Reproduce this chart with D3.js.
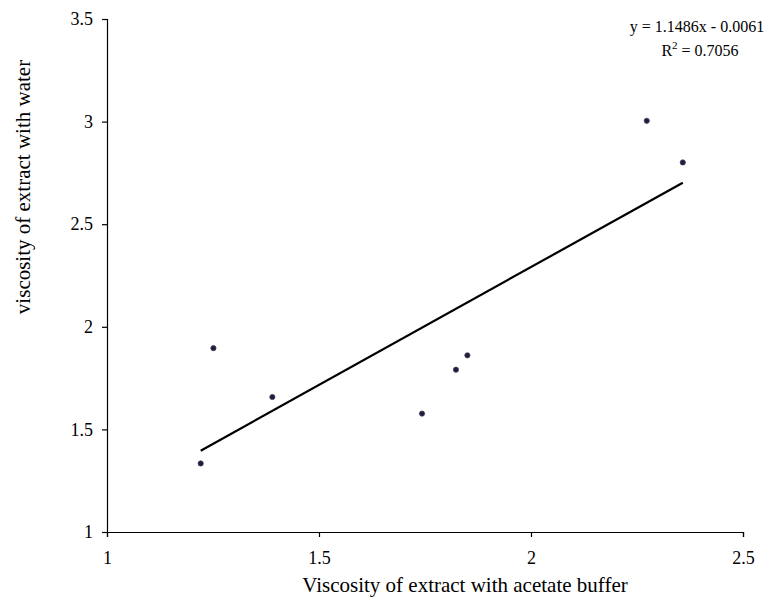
<!DOCTYPE html>
<html>
<head>
<meta charset="utf-8">
<script src="https://cdn.jsdelivr.net/npm/d3@7"></script>
<style>
  body { margin: 0; background: #fff; }
  svg text { font-family: "Liberation Serif", "Times New Roman", serif; fill: #000; }
</style>
</head>
<body>
<svg id="graph"></svg>
<script>
// data
const acetate = [1.221, 1.251, 1.390, 1.743, 1.823, 1.850, 2.273, 2.358];
const water   = [1.334, 1.896, 1.658, 1.577, 1.791, 1.861, 3.004, 2.801];
const xTicks = [1, 1.5, 2, 2.5];
const yTicks = [1, 1.5, 2, 2.5, 3, 3.5];
const slope = 1.1486, intercept = -0.0061;
const eqLabel = "y = 1.1486x - 0.0061";
const r2Value = "0.7056";

const svgWidth = 774, svgHeight = 603;
const plotLeft = 107, plotRight = 743, plotTop = 19, plotBottom = 532;

const svg = d3.select("svg#graph")
    .attr("width", svgWidth)
    .attr("height", svgHeight);

const x = d3.scaleLinear().domain([1, 2.5]).range([plotLeft, plotRight]);
const y = d3.scaleLinear().domain([1, 3.5]).range([plotBottom, plotTop]);

const xAxis = svg.append("g")
    .attr("transform", "translate(0," + plotBottom + ")")
    .call(d3.axisBottom(x).tickValues(xTicks).tickFormat(d3.format("")).tickSize(5).tickPadding(14));
const yAxis = svg.append("g")
    .attr("transform", "translate(" + plotLeft + ",0)")
    .call(d3.axisLeft(y).tickValues(yTicks).tickFormat(d3.format("")).tickSize(5).tickPadding(9));

[xAxis, yAxis].forEach(function (a) {
    a.attr("font-family", "Liberation Serif").attr("font-size", 18);
    a.select(".domain").attr("stroke", "#000").attr("stroke-width", 1.2);
    a.selectAll(".tick line").attr("stroke", "#000").attr("stroke-width", 1.2);
    a.selectAll(".tick text").attr("fill", "#000").style("font-size", "18px");
});

// trend line over the data range
const xMin = d3.min(acetate), xMax = d3.max(acetate);
svg.append("line")
    .attr("x1", x(xMin)).attr("y1", y(slope * xMin + intercept))
    .attr("x2", x(xMax)).attr("y2", y(slope * xMax + intercept))
    .attr("stroke", "#000")
    .attr("stroke-width", 2.2);

// points
svg.append("g")
    .selectAll("circle")
    .data(acetate)
    .enter()
    .append("circle")
    .attr("cx", function (d) { return x(d); })
    .attr("cy", function (d, i) { return y(water[i]); })
    .attr("r", 2.6)
    .attr("fill", "#1c1c4a")
    .attr("stroke", "#444")
    .attr("stroke-width", 0.8);

// equation
svg.append("text")
    .attr("x", 697).attr("y", 32)
    .attr("text-anchor", "middle")
    .style("font-size", "16px")
    .text(eqLabel);
const r2 = svg.append("text")
    .attr("x", 700).attr("y", 56)
    .attr("text-anchor", "middle")
    .style("font-size", "16px");
r2.append("tspan").text("R");
r2.append("tspan").attr("dy", -7).style("font-size", "11px").text("2");
r2.append("tspan").attr("dy", 7).text(" = " + r2Value);

// axis titles
svg.append("text")
    .attr("x", 465).attr("y", 592)
    .attr("text-anchor", "middle")
    .style("font-size", "21px")
    .text("Viscosity of extract with acetate buffer");
svg.append("text")
    .attr("transform", "translate(30,187) rotate(-90)")
    .attr("text-anchor", "middle")
    .style("font-size", "21px")
    .text("viscosity of extract with water");
</script>
</body>
</html>
